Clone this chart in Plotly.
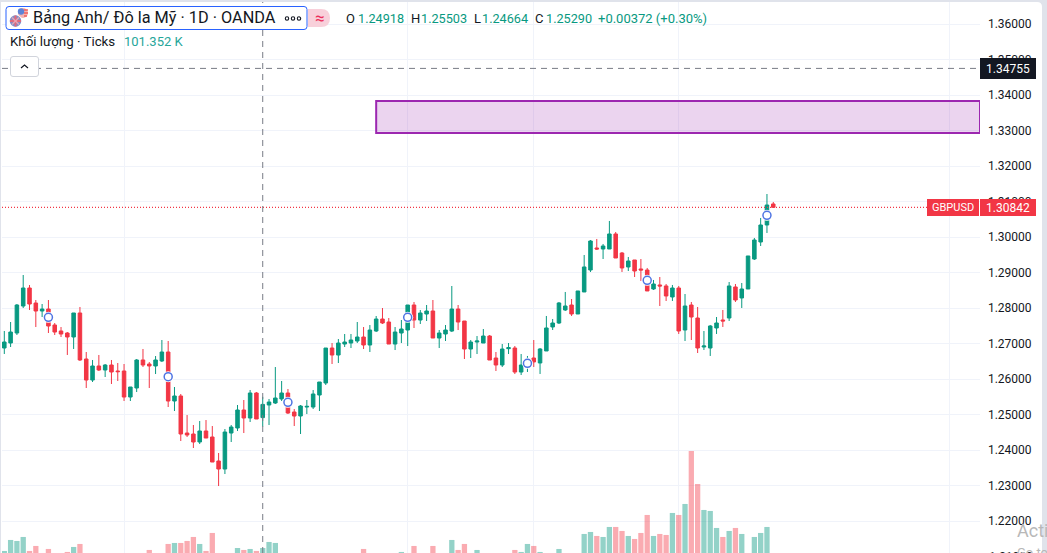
import plotly.graph_objects as go

opens = [1.26879,1.27020,1.27301,1.28062,1.28569,1.28146,1.27921,1.27977,1.27527,1.27358,1.27301,1.27189,1.27865,1.26569,1.25977,1.26372,1.26259,1.26400,1.26231,1.26231,1.25498,1.25752,1.26541,1.26428,1.26372,1.26513,1.26766,1.25386,1.25527,1.24484,1.24456,1.24231,1.24541,1.24372,1.23696,1.23470,1.24484,1.24625,1.25132,1.24907,1.25611,1.24918,
1.25273,1.25329,1.25442,1.25611,1.25076,1.24963,1.25216,1.25216,1.25554,1.25892,1.26878,1.26681,1.26991,1.27019,1.27076,1.27188,1.26963,1.27357,1.27695,1.27611,1.26991,1.27301,1.27385,1.28090,1.27667,1.27836,1.27921,1.27160,1.27273,1.27357,1.27977,1.27639,1.26850,1.27047,1.27019,1.27216,1.26597,1.26400,1.26860,1.26878,1.26202,
1.26353,1.26597,1.26457,1.26795,1.27471,1.27583,1.27950,1.28090,1.27837,1.28457,1.29076,1.29696,1.29668,1.29668,1.30091,1.29555,1.29161,1.29358,1.29105,1.29076,1.28541,1.28654,1.28626,1.28316,1.28569,1.27386,1.28090,1.27724,1.26907,1.26879,1.27443,1.27668,1.27724,1.28598,1.28288,1.28541,1.29386,1.29865,1.30344,1.30936]
highs = [1.27358,1.27611,1.28118,1.28935,1.28653,1.28231,1.28118,1.28231,1.27583,1.27470,1.27329,1.27865,1.28034,1.26766,1.26541,1.26682,1.26428,1.26541,1.26456,1.26428,1.25780,1.26569,1.26851,1.26484,1.26653,1.27104,1.27076,1.25780,1.25583,1.24991,1.24710,1.24822,1.24850,1.24681,1.23921,1.24597,1.24710,1.25273,1.25414,1.25696,1.25639,1.25503,
1.25442,1.26343,1.25949,1.25723,1.25160,1.25273,1.25414,1.25695,1.25921,1.26878,1.27019,1.27132,1.27273,1.27273,1.27611,1.27470,1.27526,1.27780,1.28005,1.27724,1.27470,1.27667,1.28090,1.28174,1.27949,1.28090,1.28231,1.27385,1.27526,1.28625,1.28090,1.27639,1.27104,1.27216,1.27414,1.27245,1.26766,1.26991,1.27019,1.26935,1.26709,
1.26654,1.27104,1.26879,1.27781,1.27696,1.28175,1.28457,1.28259,1.28485,1.29499,1.29921,1.29950,1.29809,1.30457,1.30147,1.29583,1.29443,1.29358,1.29386,1.29133,1.28795,1.28879,1.28682,1.28654,1.28626,1.28400,1.28175,1.28034,1.27358,1.27527,1.27752,1.27950,1.28738,1.28682,1.28710,1.29471,1.29978,1.30541,1.31217,1.30992]
lows = [1.26710,1.26907,1.27245,1.28006,1.27949,1.27470,1.27752,1.27301,1.27245,1.27189,1.26682,1.26851,1.26513,1.25752,1.25921,1.26231,1.26062,1.25865,1.25949,1.25386,1.25386,1.25639,1.26344,1.25752,1.26146,1.26484,1.25217,1.25104,1.24259,1.24372,1.24062,1.24174,1.24343,1.23667,1.22991,1.23329,1.24231,1.24541,1.24484,1.24794,1.24879,1.24664,
1.24709,1.25301,1.25385,1.25019,1.24681,1.24456,1.25019,1.25160,1.25104,1.25836,1.26428,1.26456,1.26907,1.26878,1.27019,1.26850,1.26766,1.27329,1.27555,1.26991,1.26822,1.27019,1.26935,1.27442,1.27555,1.27639,1.27160,1.26878,1.27076,1.27329,1.27385,1.26569,1.26597,1.26709,1.27019,1.26540,1.26231,1.26343,1.26709,1.26146,1.26118,
1.26203,1.26344,1.26147,1.26795,1.27386,1.27555,1.27921,1.27781,1.27837,1.28457,1.29020,1.29640,1.29386,1.29668,1.29414,1.29020,1.29048,1.28879,1.28767,1.28485,1.28513,1.28062,1.28203,1.28203,1.27274,1.27076,1.27104,1.26738,1.26823,1.26654,1.27274,1.27471,1.27640,1.28175,1.28006,1.28541,1.29358,1.29752,1.30119,1.30823]
closes = [1.27048,1.27329,1.28090,1.28569,1.28118,1.27921,1.27977,1.27498,1.27329,1.27273,1.27189,1.27865,1.26541,1.25977,1.26372,1.26259,1.26400,1.26203,1.26212,1.25498,1.25780,1.26541,1.26400,1.26372,1.26541,1.26766,1.25386,1.25527,1.24456,1.24428,1.24231,1.24541,1.24343,1.23667,1.23470,1.24512,1.24653,1.25132,1.24907,1.25611,1.24879,1.25290,
1.25357,1.25470,1.25611,1.25047,1.24963,1.25245,1.25235,1.25583,1.25921,1.26878,1.26681,1.27019,1.27047,1.27104,1.27188,1.26963,1.27385,1.27695,1.27583,1.26991,1.27329,1.27414,1.28090,1.27667,1.27864,1.27921,1.27160,1.27301,1.27385,1.27977,1.27611,1.26850,1.27047,1.27076,1.27216,1.26540,1.26400,1.26850,1.26888,1.26202,1.26400,
1.26541,1.26485,1.26851,1.27443,1.27583,1.28147,1.28062,1.27837,1.28485,1.29161,1.29893,1.29668,1.29752,1.30091,1.29414,1.29133,1.29330,1.29048,1.29076,1.28485,1.28682,1.28626,1.28344,1.28569,1.27358,1.28062,1.27752,1.26879,1.26935,1.27499,1.27583,1.27640,1.28626,1.28231,1.28541,1.29471,1.29921,1.30344,1.30907,1.30842]
volumes_k = [97.2,112.6,111.2,116.8,97.2,104.2,88,100,90,88,95.8,102.8,107,88,86,90,85,87,84,89,86,91,88,98.6,90,92,107,108.4,108.4,111.2,116.8,107,97.2,122.4,90,92,89,101.35,98.6,100,97.2,101.352,
109.8,108.4,90,88,86,89,91,87,85,90,88,86,89,87,92,100,88,86,90,87,89,95.8,88,104.2,90,87,104.2,89,91,112.6,98.6,107,90,98.6,88,86,90,87,89,98.6,95.8,
107,104.2,95.8,90,88,100,92,89,91,121,123.8,118.2,116.8,130.8,130.8,125.2,118.2,114,122.4,147.6,118.2,121,119.6,150.4,147.6,163,237.2,191,154.6,153.2,129.4,116.8,125.2,129.4,121,90,116.8,122.4,130.8,92]
event_index = [7,26,45,64,83,102,121]
event_price = [1.27743,1.26071,1.25348,1.27742,1.26447,1.28785,1.30616]
y_ticks = [1.22,1.23,1.24,1.25,1.26,1.27,1.28,1.29,1.30,1.31,1.32,1.33,1.34,1.35,1.36]
x_grid = [19,64,84,107,150]
zone_start = 59
zone_low, zone_high = 1.32935, 1.33837
alert_price = 1.34755
last_price = 1.30842
cross_index = 41
title = "Bảng Anh/ Đô la Mỹ · 1D · OANDA"

W, H = 1047, 553
UP, DOWN = "#089981", "#F23645"
INK = "#131722"
FONT = "Roboto, Arial, sans-serif"
PLOT_L, PLOT_R, PLOT_T = 2, 980, 2

def px(x): return x / W
def py(y): return 1 - y / H

n = len(closes)
xs = list(range(n))
x0 = (PLOT_L - 4.3) / 6.303
x1 = (PLOT_R - 4.3) / 6.303
vol_colors = [
    "rgba(8,153,129,0.44)" if c >= o else "rgba(242,54,69,0.42)"
    for o, c in zip(opens, closes)
]

fig = go.Figure()
fig.add_trace(go.Bar(x=xs, y=volumes_k, yaxis="y2", marker=dict(color=vol_colors, line_width=0), width=0.84, hoverinfo="skip"))
fig.add_trace(go.Candlestick(
    x=xs, open=opens, high=highs, low=lows, close=closes,
    increasing=dict(line=dict(color=UP, width=1), fillcolor=UP),
    decreasing=dict(line=dict(color=DOWN, width=1), fillcolor=DOWN),
    whiskerwidth=0, hoverinfo="skip",
))
fig.add_trace(go.Scatter(x=event_index, y=event_price, mode="markers", hoverinfo="skip",
                         marker=dict(size=11, color="white")))
fig.add_trace(go.Scatter(x=event_index, y=event_price, mode="markers", hoverinfo="skip",
                         marker=dict(size=8, color="white", line=dict(color="#4f74e3", width=1.5))))

shapes = []
# card background, rounded at the top right
shapes.append(dict(type="path", xref="paper", yref="paper", layer="below",
    path=f"M{px(1)},{py(553)} L{px(1)},{py(2)} L{px(1037)},{py(2)} Q{px(1042)},{py(2)} {px(1042)},{py(7)} L{px(1042)},{py(553)} Z",
    fillcolor="white", line_width=0))
# zone
shapes.append(dict(type="rect", xref="x", yref="y", x0=zone_start, x1=x1, y0=zone_low, y1=zone_high,
                   fillcolor="rgba(156,39,176,0.2)", line=dict(color="#9C27B0", width=2), layer="above"))
# alert, last price, crosshair
shapes.append(dict(type="line", xref="x", yref="y", x0=x0, x1=x1, y0=alert_price, y1=alert_price,
                   line=dict(color="#787B86", width=1, dash="6px,5px")))
shapes.append(dict(type="line", xref="x", yref="y", x0=x0, x1=x1, y0=last_price, y1=last_price,
                   line=dict(color=DOWN, width=1.3, dash="1px,2px")))
shapes.append(dict(type="line", xref="x", yref="paper", x0=cross_index, x1=cross_index, y0=0, y1=py(PLOT_T),
                   line=dict(color="#787B86", width=1, dash="6px,5px")))
# price tags
def box(l, t, r, b, color):
    shapes.append(dict(type="rect", xref="paper", yref="paper", x0=px(l), x1=px(r), y0=py(b), y1=py(t),
                       fillcolor=color, line_width=0))
box(980, 58, 1036, 79, INK)
box(927, 199, 979, 216, DOWN)
box(980, 199, 1036, 216, DOWN)
# legend title box
shapes.append(dict(type="path", xref="paper", yref="paper",
    path=f"M{px(9)},{py(6.5)} L{px(304)},{py(6.5)} Q{px(307)},{py(6.5)} {px(307)},{py(9.5)} L{px(307)},{py(26.5)} "
         f"Q{px(307)},{py(29.5)} {px(304)},{py(29.5)} L{px(9)},{py(29.5)} Q{px(6)},{py(29.5)} {px(6)},{py(26.5)} "
         f"L{px(6)},{py(9.5)} Q{px(6)},{py(6.5)} {px(9)},{py(6.5)} Z",
    fillcolor="white", line=dict(color="#2962FF", width=1)))
# flag badges
def disc(cx, cy, r, color, line_color="rgba(0,0,0,0)", line_width=0):
    shapes.append(dict(type="circle", xref="paper", yref="paper", x0=px(cx-r), x1=px(cx+r), y0=py(cy+r), y1=py(cy-r),
                       fillcolor=color, line=dict(color=line_color, width=line_width)))
def seg(xa, ya, xb, yb, color, w=1):
    shapes.append(dict(type="line", xref="paper", yref="paper", x0=px(xa), x1=px(xb), y0=py(ya), y1=py(yb),
                       line=dict(color=color, width=w)))
disc(23, 13, 5, "#f4b3b3")
seg(24, 10, 28, 10, "#ef5350", 1.3)
seg(24, 13, 28, 13, "#ef5350", 1.3)
seg(24, 16, 27, 16, "#ef5350", 1.3)
disc(21, 11.5, 3.2, "#5b83d8")
disc(15.5, 21, 6.5, "white")
disc(15.5, 21, 5.8, "#7f90c9")
seg(10, 21, 21, 21, "#e06a7d", 2.2)
seg(15.5, 15.5, 15.5, 26.5, "#e06a7d", 2.2)
seg(12, 17.5, 19, 24.5, "#eba5b2", 1.2)
seg(12, 24.5, 19, 17.5, "#eba5b2", 1.2)
# menu dots
for cx in (287, 293, 299):
    disc(cx, 18.5, 1.7, "white", INK, 1.1)
# pill
shapes.append(dict(type="path", xref="paper", yref="paper",
    path=f"M{px(308)},{py(9)} L{px(321)},{py(9)} Q{px(330)},{py(9)} {px(330)},{py(18)} Q{px(330)},{py(27)} {px(321)},{py(27)} L{px(308)},{py(27)} Z",
    fillcolor="#f8d0da", line_width=0))
# collapse button
shapes.append(dict(type="path", xref="paper", yref="paper",
    path=f"M{px(13)},{py(56.5)} L{px(36)},{py(56.5)} Q{px(38.5)},{py(56.5)} {px(38.5)},{py(59)} L{px(38.5)},{py(74)} "
         f"Q{px(38.5)},{py(76.5)} {px(36)},{py(76.5)} L{px(13)},{py(76.5)} Q{px(10.5)},{py(76.5)} {px(10.5)},{py(74)} "
         f"L{px(10.5)},{py(59)} Q{px(10.5)},{py(56.5)} {px(13)},{py(56.5)} Z",
    fillcolor="white", line=dict(color="#d1d4dc", width=1)))
shapes.append(dict(type="path", xref="paper", yref="paper",
    path=f"M{px(21)},{py(68)} L{px(24.5)},{py(65)} L{px(28)},{py(68)}", line=dict(color=INK, width=1.2)))

annotations = []
def label(x, y, text, size=12, color=INK, anchor="left"):
    annotations.append(dict(xref="paper", yref="paper", x=px(x), y=py(y), text=text, showarrow=False,
                            xanchor=anchor, yanchor="middle", align=anchor, borderpad=0, borderwidth=0,
                            font=dict(family=FONT, size=size, color=color)))
label(33, 18, title, size=16.3)
label(319.5, 18, "≈", size=17, color="#EC2F5B", anchor="center")
G = "#089981"
quote = [("O", "1.24918", 346, 358), ("H", "1.25503", 410.5, 421), ("L", "1.24664", 474, 482), ("C", "1.25290", 535, 546)]
for letter, val, xl, xv in quote:
    label(xl, 18.5, letter, size=13)
    label(xv, 18.5, val, size=12.7, color=G)
label(598, 18.5, "+0.00372 (+0.30%)", size=13, color=G)
label(10, 42, "Khối lượng · Ticks", size=13.3)
label(124, 42, "101.352 K", size=13, color="#26A69A")
label(1008, 68.8, "1.34755", size=12, color="white", anchor="center")
label(953, 207.5, "GBPUSD", size=11, color="white", anchor="center")
label(1008, 207.5, "1.30842", size=12, color="white", anchor="center")
label(988.5, 556.5, "1.21000", size=12)
label(1017, 530, "Activate Windows", size=18, color="#b8b8b8")
label(1017, 552, "Go to Settings to activate Windows.", size=13, color="#b8b8b8")

grid = "#F0F3FA"
fig.update_layout(
    width=W, height=H, margin=dict(l=0, r=0, t=0, b=0, pad=0, autoexpand=False),
    paper_bgcolor="#E0E3EB", plot_bgcolor="rgba(0,0,0,0)", showlegend=False, boxgap=0.2,
    hovermode=False, dragmode=False, shapes=shapes, annotations=annotations,
    font=dict(family=FONT, size=12, color=INK),
    xaxis=dict(domain=[px(PLOT_L), px(PLOT_R)], range=[x0, x1], rangeslider=dict(visible=False), tickmode="array",
               tickvals=x_grid, showticklabels=False, ticks="", showgrid=True, gridcolor=grid, gridwidth=1, zeroline=False, showline=False),
    yaxis=dict(domain=[0, py(PLOT_T)], range=[1.29 - (553 - 272.7) / 3550, 1.29 + (272.7 - PLOT_T) / 3550], side="right", tickmode="array",
               tickvals=y_ticks, tickformat=".5f", showgrid=True, gridcolor=grid, gridwidth=1, zeroline=False, showline=False,
               ticks="outside", ticklen=4.5, tickcolor="rgba(0,0,0,0)", tickfont=dict(family=FONT, size=12, color=INK)),
    yaxis2=dict(domain=[0, py(PLOT_T)], overlaying="y", side="left", range=[94.35, 865.75], showgrid=False, zeroline=False,
                showticklabels=False, ticks="", showline=False),
)

fig.write_html("out.html", config={"displayModeBar": False, "responsive": False},
               post_script="document.body.style.margin='0';document.documentElement.style.overflow='hidden';")
